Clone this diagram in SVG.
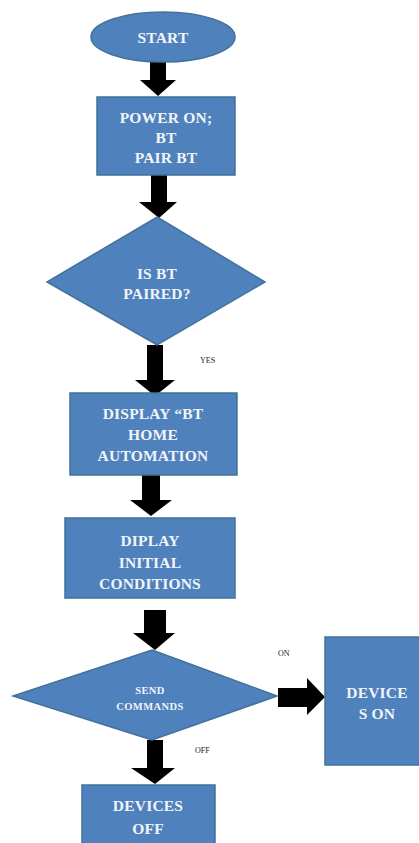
<svg xmlns="http://www.w3.org/2000/svg" width="419" height="843" viewBox="0 0 419 843">
<style>
.n{fill:#4f81bd;stroke:#41719c;stroke-width:1.5}
.t{fill:#f2f4f8;font-family:"Liberation Serif",serif;font-weight:bold;font-size:15.5px;letter-spacing:0.2px;text-anchor:middle}
.s{font-size:10.5px;letter-spacing:0.4px}
.a{fill:#000}
.l{fill:#222;font-family:"Liberation Serif",serif;font-size:8px}
</style>
<rect width="419" height="843" fill="#fff"/>
<g id="connectors">
<polygon class="a" points="150,62 166,62 166,80 176,80 158,96 140,80 150,80"/>
<polygon class="a" points="151,175 167,175 167,202 177,202 159,218 139,202 151,202"/>
<polygon class="a" points="147,345 163,345 163,380 175,380 155,396 135,380 147,380"/>
<polygon class="a" points="142,475 160,475 160,500 172,500 151,516 130,500 142,500"/>
<polygon class="a" points="144,610 166,610 166,633 175,633 155,650 133,633 144,633"/>
<polygon class="a" points="278,688 307,688 307,678 325,697 307,715 307,707 278,707"/>
<polygon class="a" points="147,740 163,740 163,768 175,768 155,784 131,768 147,768"/>
<text class="l" x="200" y="363">YES</text>
<text class="l" x="278" y="656">ON</text>
<text class="l" x="195" y="753">OFF</text>
</g>
<g id="start">
<ellipse class="n" cx="163" cy="37" rx="72" ry="25"/>
<text class="t" x="163" y="43">START</text>
</g>
<g id="power">
<rect class="n" x="97" y="97" width="138" height="78"/>
<text class="t" x="166" y="123">POWER ON;</text>
<text class="t" x="166" y="143">BT</text>
<text class="t" x="166" y="163">PAIR BT</text>
</g>
<g id="paired">
<polygon class="n" points="157,217 265,282 157,345 47,282"/>
<text class="t" x="157" y="279">IS BT</text>
<text class="t" x="157" y="299">PAIRED?</text>
</g>
<g id="display">
<rect class="n" x="70" y="393" width="167" height="82"/>
<text class="t" x="153" y="419">DISPLAY “BT</text>
<text class="t" x="153" y="440">HOME</text>
<text class="t" x="153" y="461">AUTOMATION</text>
</g>
<g id="initial">
<rect class="n" x="65" y="518" width="170" height="80"/>
<text class="t" x="150" y="546">DIPLAY</text>
<text class="t" x="150" y="568">INITIAL</text>
<text class="t" x="150" y="589">CONDITIONS</text>
</g>
<g id="send">
<polygon class="n" points="152,650 277,696 152,740 13,696"/>
<text class="t s" x="150" y="694">SEND</text>
<text class="t s" x="150" y="710">COMMANDS</text>
</g>
<g id="deviceson">
<rect class="n" x="325" y="637" width="95" height="128"/>
<text class="t" x="377" y="698">DEVICE</text>
<text class="t" x="377" y="719">S ON</text>
</g>
<g id="devicesoff">
<rect class="n" x="82" y="785" width="133" height="62"/>
<text class="t" x="148" y="811">DEVICES</text>
<text class="t" x="148" y="834">OFF</text>
</g>
</svg>
